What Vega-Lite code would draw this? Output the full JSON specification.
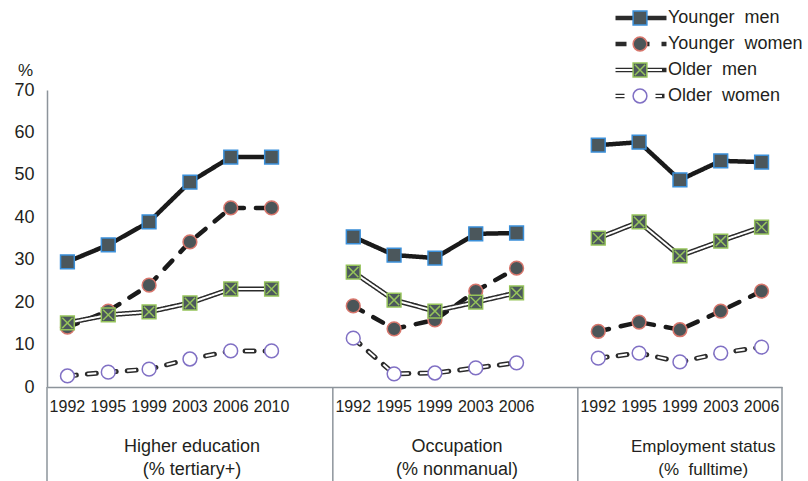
{
  "$schema": "https://vega.github.io/schema/vega-lite/v6.json",
  "width": 735,
  "height": 297,
  "autosize": "none",
  "padding": {"left": 47, "top": 90, "right": 26, "bottom": 94},
  "config": {"view": {"stroke": null}, "font": "Liberation Sans"},
  "datasets": {
    "main": [
      {"slot": "Higher education 1992", "group": "Higher education", "series": "Younger men", "value": 29.5},
      {"slot": "Higher education 1995", "group": "Higher education", "series": "Younger men", "value": 33.5},
      {"slot": "Higher education 1999", "group": "Higher education", "series": "Younger men", "value": 38.9},
      {"slot": "Higher education 2003", "group": "Higher education", "series": "Younger men", "value": 48.3},
      {"slot": "Higher education 2006", "group": "Higher education", "series": "Younger men", "value": 54.2},
      {"slot": "Higher education 2010", "group": "Higher education", "series": "Younger men", "value": 54.2},
      {"slot": "Higher education 1992", "group": "Higher education", "series": "Younger women", "value": 14.1},
      {"slot": "Higher education 1995", "group": "Higher education", "series": "Younger women", "value": 17.9},
      {"slot": "Higher education 1999", "group": "Higher education", "series": "Younger women", "value": 24.0},
      {"slot": "Higher education 2003", "group": "Higher education", "series": "Younger women", "value": 34.2},
      {"slot": "Higher education 2006", "group": "Higher education", "series": "Younger women", "value": 42.2},
      {"slot": "Higher education 2010", "group": "Higher education", "series": "Younger women", "value": 42.2},
      {"slot": "Higher education 1992", "group": "Higher education", "series": "Older men", "value": 15.1},
      {"slot": "Higher education 1995", "group": "Higher education", "series": "Older men", "value": 17.0},
      {"slot": "Higher education 1999", "group": "Higher education", "series": "Older men", "value": 17.7},
      {"slot": "Higher education 2003", "group": "Higher education", "series": "Older men", "value": 19.8},
      {"slot": "Higher education 2006", "group": "Higher education", "series": "Older men", "value": 23.1},
      {"slot": "Higher education 2010", "group": "Higher education", "series": "Older men", "value": 23.1},
      {"slot": "Higher education 1992", "group": "Higher education", "series": "Older women", "value": 2.6},
      {"slot": "Higher education 1995", "group": "Higher education", "series": "Older women", "value": 3.5},
      {"slot": "Higher education 1999", "group": "Higher education", "series": "Older women", "value": 4.2},
      {"slot": "Higher education 2003", "group": "Higher education", "series": "Older women", "value": 6.6},
      {"slot": "Higher education 2006", "group": "Higher education", "series": "Older women", "value": 8.5},
      {"slot": "Higher education 2010", "group": "Higher education", "series": "Older women", "value": 8.5},
      {"slot": "Occupation 1992", "group": "Occupation", "series": "Younger men", "value": 35.4},
      {"slot": "Occupation 1995", "group": "Occupation", "series": "Younger men", "value": 31.1},
      {"slot": "Occupation 1999", "group": "Occupation", "series": "Younger men", "value": 30.4},
      {"slot": "Occupation 2003", "group": "Occupation", "series": "Younger men", "value": 36.1},
      {"slot": "Occupation 2006", "group": "Occupation", "series": "Younger men", "value": 36.3},
      {"slot": "Occupation 1992", "group": "Occupation", "series": "Younger women", "value": 19.1},
      {"slot": "Occupation 1995", "group": "Occupation", "series": "Younger women", "value": 13.7},
      {"slot": "Occupation 1999", "group": "Occupation", "series": "Younger women", "value": 15.8},
      {"slot": "Occupation 2003", "group": "Occupation", "series": "Younger women", "value": 22.6},
      {"slot": "Occupation 2006", "group": "Occupation", "series": "Younger women", "value": 28.0},
      {"slot": "Occupation 1992", "group": "Occupation", "series": "Older men", "value": 27.1},
      {"slot": "Occupation 1995", "group": "Occupation", "series": "Older men", "value": 20.5},
      {"slot": "Occupation 1999", "group": "Occupation", "series": "Older men", "value": 17.9},
      {"slot": "Occupation 2003", "group": "Occupation", "series": "Older men", "value": 20.0},
      {"slot": "Occupation 2006", "group": "Occupation", "series": "Older men", "value": 22.2},
      {"slot": "Occupation 1992", "group": "Occupation", "series": "Older women", "value": 11.5},
      {"slot": "Occupation 1995", "group": "Occupation", "series": "Older women", "value": 3.1},
      {"slot": "Occupation 1999", "group": "Occupation", "series": "Older women", "value": 3.3},
      {"slot": "Occupation 2003", "group": "Occupation", "series": "Older women", "value": 4.5},
      {"slot": "Occupation 2006", "group": "Occupation", "series": "Older women", "value": 5.7},
      {"slot": "Employment status 1992", "group": "Employment status", "series": "Younger men", "value": 57.0},
      {"slot": "Employment status 1995", "group": "Employment status", "series": "Younger men", "value": 57.7},
      {"slot": "Employment status 1999", "group": "Employment status", "series": "Younger men", "value": 48.8},
      {"slot": "Employment status 2003", "group": "Employment status", "series": "Younger men", "value": 53.3},
      {"slot": "Employment status 2006", "group": "Employment status", "series": "Younger men", "value": 53.0},
      {"slot": "Employment status 1992", "group": "Employment status", "series": "Younger women", "value": 13.1},
      {"slot": "Employment status 1995", "group": "Employment status", "series": "Younger women", "value": 15.3},
      {"slot": "Employment status 1999", "group": "Employment status", "series": "Younger women", "value": 13.5},
      {"slot": "Employment status 2003", "group": "Employment status", "series": "Younger women", "value": 17.9},
      {"slot": "Employment status 2006", "group": "Employment status", "series": "Younger women", "value": 22.6},
      {"slot": "Employment status 1992", "group": "Employment status", "series": "Older men", "value": 35.1},
      {"slot": "Employment status 1995", "group": "Employment status", "series": "Older men", "value": 38.9},
      {"slot": "Employment status 1999", "group": "Employment status", "series": "Older men", "value": 30.9},
      {"slot": "Employment status 2003", "group": "Employment status", "series": "Older men", "value": 34.4},
      {"slot": "Employment status 2006", "group": "Employment status", "series": "Older men", "value": 37.7},
      {"slot": "Employment status 1992", "group": "Employment status", "series": "Older women", "value": 6.8},
      {"slot": "Employment status 1995", "group": "Employment status", "series": "Older women", "value": 8.0},
      {"slot": "Employment status 1999", "group": "Employment status", "series": "Older women", "value": 5.9},
      {"slot": "Employment status 2003", "group": "Employment status", "series": "Older women", "value": 8.0},
      {"slot": "Employment status 2006", "group": "Employment status", "series": "Older women", "value": 9.4}
    ]
  },
  "encoding": {
    "x": {
      "field": "slot",
      "type": "ordinal",
      "scale": {
        "type": "band",
        "domain": ["Higher education 1992", "Higher education 1995", "Higher education 1999", "Higher education 2003", "Higher education 2006", "Higher education 2010", "gap1", "Occupation 1992", "Occupation 1995", "Occupation 1999", "Occupation 2003", "Occupation 2006", "gap2", "Employment status 1992", "Employment status 1995", "Employment status 1999", "Employment status 2003", "Employment status 2006"],
        "paddingInner": 0,
        "paddingOuter": 0
      },
      "axis": {
        "title": null,
        "ticks": false,
        "domainColor": "#8d949b",
        "domainWidth": 1.5,
        "labelFontSize": 16,
        "labelColor": "#231f20",
        "labelPadding": 11,
        "labelAngle": 0,
        "labelOverlap": false,
        "labelExpr": "slice(datum.value,0,3)=='gap' ? '' : slice(datum.value,-4)"
      }
    }
  },
  "layer": [
    {
      "data": {"values": [{"slot": "Higher education 1992"}, {"slot": "Occupation 1992"}, {"slot": "Employment status 1992"}]},
      "mark": {"type": "rule", "color": "#8d949b", "strokeWidth": 1.5},
      "encoding": {
        "x": {"field": "slot", "type": "ordinal", "bandPosition": 0},
        "y": {"datum": 0, "type": "quantitative"},
        "y2": {"datum": -22.2}
      }
    },
    {
      "data": {"values": [{"slot": "Employment status 2006"}]},
      "mark": {"type": "rule", "color": "#8d949b", "strokeWidth": 1.5},
      "encoding": {
        "x": {"field": "slot", "type": "ordinal", "bandPosition": 1},
        "y": {"datum": 0, "type": "quantitative"},
        "y2": {"datum": -22.2}
      }
    },
    {
      "data": {"name": "main"},
      "transform": [{"filter": {"field": "series", "oneOf": ["Younger men", "Younger women"]}}],
      "mark": {"type": "line", "stroke": "#1a1a1a", "strokeWidth": 4.5, "strokeCap": "round", "strokeJoin": "round"},
      "encoding": {
        "y": {
          "field": "value",
          "type": "quantitative",
          "scale": {"domain": [0, 70], "nice": false},
          "axis": {
            "title": "%", "titleAngle": 0, "titleX": -22, "titleY": -20, "titleAlign": "center", "titleBaseline": "middle",
            "titleFontSize": 17, "titleFontWeight": "normal", "titleColor": "#231f20",
            "ticks": false, "grid": false, "domainColor": "#8d949b", "domainWidth": 1.5,
            "labelFontSize": 18, "labelColor": "#231f20", "labelPadding": 13,
            "values": [0, 10, 20, 30, 40, 50, 60, 70]
          }
        },
        "detail": {"field": "group"},
        "strokeDash": {
          "field": "series",
          "type": "nominal",
          "sort": ["Younger men", "Younger women", "Older men", "Older women"],
          "scale": {"range": [[1, 0], [11, 12], [1, 0], [9, 11]]},
          "legend": {
            "orient": "none", "legendX": 566, "legendY": -82, "title": null, "padding": 0,
            "symbolType": "stroke", "symbolSize": 2600, "symbolStrokeWidth": 4.5, "symbolStrokeColor": "#1a1a1a",
            "clipHeight": 20, "rowPadding": 6, "labelFontSize": 18, "labelColor": "#231f20", "labelOffset": -1,
            "labelExpr": "replace(datum.label,' ','\u00a0 ')", "zindex": 0
          }
        }
      }
    },
    {
      "data": {"name": "main"},
      "transform": [{"filter": {"field": "series", "oneOf": ["Older men", "Older women"]}}],
      "mark": {"type": "line", "stroke": "#2b2b2b", "strokeWidth": 5, "strokeCap": "round", "strokeJoin": "round"},
      "encoding": {
        "y": {"field": "value", "type": "quantitative"},
        "detail": {"field": "group"},
        "strokeDash": {"field": "series", "type": "nominal", "sort": ["Younger men", "Younger women", "Older men", "Older women"]}
      }
    },
    {
      "data": {"name": "main"},
      "transform": [{"filter": {"field": "series", "oneOf": ["Older men", "Older women"]}}],
      "mark": {"type": "line", "stroke": "#ffffff", "strokeCap": "butt", "strokeJoin": "round"},
      "encoding": {
        "y": {"field": "value", "type": "quantitative"},
        "detail": {"field": "group"},
        "strokeDash": {"field": "series", "type": "nominal", "sort": ["Younger men", "Younger women", "Older men", "Older women"]},
        "strokeWidth": {
          "field": "series",
          "type": "nominal",
          "scale": {"type": "ordinal", "domain": ["Older men", "Older women"], "range": [2, 2]},
          "legend": {
            "orient": "none", "legendX": 566, "legendY": -30, "title": null, "padding": 0,
            "symbolType": "stroke", "symbolSize": 2300, "symbolStrokeWidth": 1.8, "symbolStrokeColor": "#ffffff",
            "clipHeight": 20, "rowPadding": 6, "labelFontSize": 18, "labelExpr": "''", "zindex": 5
          }
        }
      }
    },
    {
      "data": {"name": "main"},
      "mark": {"type": "point", "opacity": 1, "strokeWidth": 1.5, "size": 190},
      "encoding": {
        "y": {"field": "value", "type": "quantitative"},
        "shape": {
          "field": "series", "type": "nominal",
          "scale": {"domain": ["Younger men", "Younger women", "Older men", "Older women"], "range": ["square", "circle", "M-1,-1H1V1H-1Z M-0.75,-0.75L0.75,0.75 M0.75,-0.75L-0.75,0.75", "circle"]},
          "legend": {
            "orient": "none", "legendX": 584, "legendY": -82, "title": null, "padding": 0,
            "symbolSize": 190, "symbolStrokeWidth": 1.5, "symbolOpacity": 1,
            "clipHeight": 20, "rowPadding": 6, "labelFontSize": 18, "labelExpr": "''", "zindex": 8
          }
        },
        "fill": {
          "field": "series", "type": "nominal",
          "scale": {"domain": ["Younger men", "Younger women", "Older men", "Older women"], "range": ["#4b575c", "#4b5558", "#4b575c", "#ffffff"]},
          "legend": {
            "orient": "none", "legendX": 584, "legendY": -82, "title": null, "padding": 0,
            "symbolSize": 190, "symbolStrokeWidth": 1.5, "symbolOpacity": 1,
            "clipHeight": 20, "rowPadding": 6, "labelFontSize": 18, "labelExpr": "''", "zindex": 8
          }
        },
        "stroke": {
          "field": "series", "type": "nominal",
          "scale": {"domain": ["Younger men", "Younger women", "Older men", "Older women"], "range": ["#3a8fd9", "#d7766c", "#95c35a", "#8070c4"]},
          "legend": {
            "orient": "none", "legendX": 584, "legendY": -82, "title": null, "padding": 0,
            "symbolSize": 190, "symbolStrokeWidth": 1.5, "symbolOpacity": 1,
            "clipHeight": 20, "rowPadding": 6, "labelFontSize": 18, "labelExpr": "''", "zindex": 8
          }
        }
      }
    },
    {
      "data": {"values": [{"slot": "Higher education 2003", "label": "Higher education\n(% tertiary+)"}]},
      "mark": {"type": "text", "fontSize": 18, "lineHeight": 23, "lineBreak": "\n", "baseline": "middle", "align": "center", "color": "#231f20"},
      "encoding": {
        "x": {"field": "slot", "type": "ordinal", "bandPosition": 0.55},
        "y": {"datum": -14.14, "type": "quantitative"},
        "text": {"field": "label"}
      }
    },
    {
      "data": {"values": [{"slot": "Occupation 2003", "label": "Occupation\n(% nonmanual)"}]},
      "mark": {"type": "text", "fontSize": 18, "lineHeight": 23, "lineBreak": "\n", "baseline": "middle", "align": "center", "color": "#231f20"},
      "encoding": {
        "x": {"field": "slot", "type": "ordinal", "bandPosition": 0.04},
        "y": {"datum": -14.14, "type": "quantitative"},
        "text": {"field": "label"}
      }
    },
    {
      "data": {"values": [{"slot": "Employment status 2003", "label": "Employment status\n(%\u00a0 fulltime)"}]},
      "mark": {"type": "text", "fontSize": 17, "lineHeight": 23, "lineBreak": "\n", "baseline": "middle", "align": "center", "color": "#231f20"},
      "encoding": {
        "x": {"field": "slot", "type": "ordinal", "bandPosition": 0.07},
        "y": {"datum": -14.14, "type": "quantitative"},
        "text": {"field": "label"}
      }
    }
  ]
}
